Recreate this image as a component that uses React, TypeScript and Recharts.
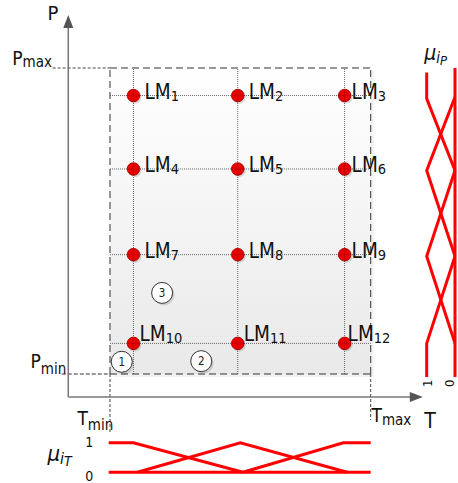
import React from "react";
import {
  ComposedChart,
  XAxis,
  YAxis,
  Scatter,
  ReferenceLine,
  ReferenceArea,
  ReferenceDot,
} from "recharts";

const FONT = "'DejaVu Sans Condensed', 'DejaVu Sans', sans-serif";
const RED = "#ff0000";

// operating range (T on x, P on y)
const T_MIN = 0;
const T_MAX = 100;
const P_MIN = 0;
const P_MAX = 100;

// local model centres
const tCentres = [9, 49, 90];
const pCentres = [91, 67, 39, 10];
const modelIds = ["1", "2", "3", "4", "5", "6", "7", "8", "9", "10", "11", "12"];

// numbered regions
const regionIds = ["1", "2", "3"];
const regionT = [4.5, 35, 20];
const regionP = [4, 4.2, 26.5];

// membership functions of T (bottom strip)
const muT0 = [{ t: -0.5, mu: 0 }, { t: 100, mu: 0 }];
const muT1 = [{ t: -0.5, mu: 1 }, { t: 9, mu: 1 }, { t: 51, mu: 0 }];
const muT2 = [{ t: 10.5, mu: 0 }, { t: 50, mu: 1 }, { t: 91, mu: 0 }];
const muT3 = [{ t: 51, mu: 0 }, { t: 89.5, mu: 1 }, { t: 100, mu: 1 }];

// membership functions of P (right strip)
const muP0 = [{ mu: 0, p: 100 }, { mu: 0, p: -1 }];
const muP1 = [{ mu: 1, p: 98.5 }, { mu: 1, p: 90 }, { mu: 0, p: 66.5 }];
const muP2 = [{ mu: 0, p: 90.5 }, { mu: 1, p: 66.5 }, { mu: 0, p: 38.5 }];
const muP3 = [{ mu: 0, p: 66.5 }, { mu: 1, p: 38.5 }, { mu: 0, p: 10 }];
const muP4 = [{ mu: 0, p: 38.5 }, { mu: 1, p: 10 }, { mu: 1, p: -1 }];

// axes origin and arrow tips
const originT = -16;
const originP = -7.5;
const arrowT = 120;
const arrowP = 117.3;

const models = pCentres.flatMap((p, row) =>
  tCentres.map((t, col) => ({ t, p, row, col, id: modelIds[row * 3 + col] }))
);

function MathText({ x, y, main, sub, size = 19, subSize = 14, subDy = 5, italic = false }: any) {
  return (
    <text x={x} y={y} fontFamily={FONT} fontSize={size} fill="#111" fontStyle={italic ? "italic" : "normal"}>
      {main}
      {sub && (
        <tspan fontSize={subSize} dy={subDy}>
          {sub}
        </tspan>
      )}
    </text>
  );
}

function ModelDot(props: any) {
  const { cx, cy, payload } = props;
  const lastCol = payload.col === 2;
  const lastRow = payload.row === 3;
  const dx = lastRow ? (lastCol ? 3 : 6) : lastCol ? 7 : 11;
  const dy = lastRow ? -2 : 3;
  return (
    <g>
      <circle cx={cx + 1.5} cy={cy + 1.5} r={6.5} fill="#000" opacity={0.15} />
      <circle cx={cx} cy={cy} r={6.3} fill="#e80000" stroke="#a00000" strokeWidth={0.8} />
      <line x1={cx - 6} x2={cx + 6} y1={cy} y2={cy} stroke="#a00000" strokeWidth={0.4} />
      <line x1={cx} x2={cx} y1={cy - 6} y2={cy + 6} stroke="#a00000" strokeWidth={0.4} />
      <MathText x={cx + dx} y={cy + dy} main="LM" sub={payload.id} size={20.5} subSize={14.5} subDy={2} />
    </g>
  );
}

function RegionMark({ cx, cy, id }: any) {
  return (
    <g>
      <circle cx={cx + 2} cy={cy + 2} r={10.5} fill="#000" opacity={0.12} />
      <circle cx={cx} cy={cy} r={10.5} fill="#fff" stroke="#333" strokeWidth={1} />
      <text x={cx} y={cy + 4} textAnchor="middle" fontFamily={FONT} fontSize={11.5} fill="#222">
        {id}
      </text>
    </g>
  );
}

function Shade(props: any) {
  const { x, y, width, height } = props;
  return (
    <g>
      <defs>
        <linearGradient id="shade" x1="0" y1="0" x2="0" y2="1">
          <stop offset="0%" stopColor="#ffffff" />
          <stop offset="100%" stopColor="#e9e9e9" />
        </linearGradient>
      </defs>
      <rect x={x + 3} y={y + 3} width={width} height={height} fill="#000" opacity={0.05} />
      <rect x={x} y={y} width={width} height={height} fill="url(#shade)" />
    </g>
  );
}

const noDot = () => <g />;

export default function App() {
  const memb = (data: any[], xId: any, yId: any, key: string) => (
    <Scatter
      key={key}
      data={data}
      xAxisId={xId}
      yAxisId={yId}
      line={{ stroke: RED, strokeWidth: 3 }}
      shape={noDot}
      isAnimationActive={false}
    />
  );

  return (
    <div style={{ position: "absolute", left: 0, top: 0 }}>
      <ComposedChart width={458} height={483} margin={{ top: 0, right: 0, bottom: 0, left: 0 }}>
        <XAxis xAxisId={0} type="number" dataKey="t" domain={[-42.19, 133.49]} allowDataOverflow hide />
        <YAxis yAxisId={0} type="number" dataKey="p" domain={[-35.62, 122.22]} allowDataOverflow hide />
        <XAxis xAxisId="mu" type="number" dataKey="mu" domain={[-0.106, 16.08]} reversed allowDataOverflow hide />
        <YAxis yAxisId="muT" type="number" dataKey="mu" domain={[-0.363, 16.01]} allowDataOverflow hide />

        <ReferenceArea x1={T_MIN} x2={T_MAX} y1={P_MIN} y2={P_MAX} shape={Shade} />

        {/* grid through the local models */}
        {tCentres.map((t) => (
          <ReferenceLine
            key={"gt" + t}
            segment={[{ x: t, y: P_MIN }, { x: t, y: P_MAX }]}
            stroke="#666"
            strokeDasharray="1 1"
          />
        ))}
        {pCentres.map((p) => (
          <ReferenceLine
            key={"gp" + p}
            segment={[{ x: T_MIN, y: p }, { x: T_MAX, y: p }]}
            stroke="#666"
            strokeDasharray="1 1"
          />
        ))}

        {/* dashed operating range */}
        <ReferenceLine segment={[{ x: T_MIN, y: P_MAX }, { x: T_MAX, y: P_MAX }]} stroke="#333" strokeDasharray="7 4" />
        <ReferenceLine segment={[{ x: T_MIN, y: P_MIN }, { x: T_MAX, y: P_MIN }]} stroke="#333" strokeDasharray="7 4" />
        <ReferenceLine segment={[{ x: T_MIN, y: P_MIN }, { x: T_MIN, y: P_MAX }]} stroke="#333" strokeDasharray="7 4" />
        <ReferenceLine segment={[{ x: T_MAX, y: P_MIN }, { x: T_MAX, y: P_MAX }]} stroke="#333" strokeDasharray="7 4" />
        <ReferenceLine segment={[{ x: -22, y: P_MAX }, { x: T_MIN, y: P_MAX }]} stroke="#444" strokeDasharray="3 2" />
        <ReferenceLine segment={[{ x: -18.5, y: P_MIN }, { x: T_MIN, y: P_MIN }]} stroke="#333" strokeDasharray="4 2" />
        <ReferenceLine segment={[{ x: T_MIN, y: P_MIN }, { x: T_MIN, y: -19 }]} stroke="#444" strokeDasharray="3 2" />
        <ReferenceLine segment={[{ x: T_MAX, y: P_MIN }, { x: T_MAX, y: -15 }]} stroke="#444" strokeDasharray="3 2" />

        {/* axes */}
        <ReferenceLine segment={[{ x: originT, y: originP }, { x: originT, y: arrowP - 4 }]} stroke="#777" strokeWidth={1.5} />
        <ReferenceLine segment={[{ x: originT, y: originP }, { x: arrowT - 4, y: originP }]} stroke="#777" strokeWidth={1.5} />
        <ReferenceDot
          x={originT}
          y={arrowP}
          shape={(p: any) => (
            <polygon points={`${p.cx},${p.cy} ${p.cx - 5},${p.cy + 13} ${p.cx + 5},${p.cy + 13}`} fill="#555" />
          )}
        />
        <ReferenceDot
          x={arrowT}
          y={originP}
          shape={(p: any) => (
            <polygon points={`${p.cx},${p.cy} ${p.cx - 13},${p.cy - 5} ${p.cx - 13},${p.cy + 5}`} fill="#555" />
          )}
        />

        {/* membership functions */}
        {memb(muT0, 0, "muT", "t0")}
        {memb(muT1, 0, "muT", "t1")}
        {memb(muT2, 0, "muT", "t2")}
        {memb(muT3, 0, "muT", "t3")}
        {memb(muP0, "mu", 0, "p0")}
        {memb(muP1, "mu", 0, "p1")}
        {memb(muP2, "mu", 0, "p2")}
        {memb(muP3, "mu", 0, "p3")}
        {memb(muP4, "mu", 0, "p4")}

        {/* local models */}
        <Scatter data={models} shape={ModelDot} isAnimationActive={false} />

        {regionIds.map((id, i) => (
          <ReferenceDot key={"r" + id} x={regionT[i]} y={regionP[i]} shape={(p: any) => <RegionMark cx={p.cx} cy={p.cy} id={id} />} />
        ))}

        {/* text labels */}
        <ReferenceDot x={-24} y={115.7} shape={(p: any) => <MathText x={p.cx} y={p.cy} main="P" size={20} />} />
        <ReferenceDot x={-37.5} y={101} shape={(p: any) => <MathText x={p.cx} y={p.cy} main="P" sub="max" size={19} subSize={15} subDy={2} />} />
        <ReferenceDot x={-30.5} y={2} shape={(p: any) => <MathText x={p.cx} y={p.cy} main="P" sub="min" size={19} subSize={15} subDy={6} />} />
        <ReferenceDot x={-12.5} y={-16.7} shape={(p: any) => <MathText x={p.cx} y={p.cy} main="T" sub="min" size={19} subSize={15} subDy={5} />} />
        <ReferenceDot x={100.3} y={-15.7} shape={(p: any) => <MathText x={p.cx} y={p.cy} main="T" sub="max" size={19} subSize={15} subDy={3} />} />
        <ReferenceDot x={120.5} y={-17.5} shape={(p: any) => <MathText x={p.cx} y={p.cy} main="T" size={21} />} />
        <ReferenceDot
          x={120.5}
          y={102.5}
          shape={(p: any) => (
            <text x={p.cx} y={p.cy} fontFamily={FONT} fontSize={21} fontStyle="italic" fill="#111">
              μ<tspan fontSize={15} dy={3}>i</tspan>
              <tspan fontSize={13} dy={2}>P</tspan>
            </text>
          )}
        />
        <ReferenceDot
          x={-24}
          y={-28.4}
          shape={(p: any) => (
            <text x={p.cx} y={p.cy} fontFamily={FONT} fontSize={22} fontStyle="italic" fill="#111">
              μ<tspan fontSize={16} dy={3}>i</tspan>
              <tspan fontSize={14} dy={2}>T</tspan>
            </text>
          )}
        />
        <ReferenceDot
          x={-8}
          y={1}
          yAxisId="muT"
          shape={(p: any) => (
            <text x={p.cx} y={p.cy + 4} textAnchor="middle" fontFamily={FONT} fontSize={14} fill="#111">
              1
            </text>
          )}
        />
        <ReferenceDot
          x={-8}
          y={0}
          yAxisId="muT"
          shape={(p: any) => (
            <text x={p.cx} y={p.cy + 9} textAnchor="middle" fontFamily={FONT} fontSize={14} fill="#111">
              0
            </text>
          )}
        />
        <ReferenceDot
          x={1}
          y={-3}
          xAxisId="mu"
          shape={(p: any) => (
            <text
              x={p.cx}
              y={p.cy}
              transform={`rotate(-90 ${p.cx} ${p.cy})`}
              textAnchor="middle"
              dy={5}
              fontFamily={FONT}
              fontSize={13}
              fill="#111"
            >
              1
            </text>
          )}
        />
        <ReferenceDot
          x={0}
          y={-3}
          xAxisId="mu"
          shape={(p: any) => (
            <text
              x={p.cx}
              y={p.cy}
              transform={`rotate(-90 ${p.cx} ${p.cy})`}
              textAnchor="middle"
              dy={-1}
              fontFamily={FONT}
              fontSize={13}
              fill="#111"
            >
              0
            </text>
          )}
        />
      </ComposedChart>
    </div>
  );
}
